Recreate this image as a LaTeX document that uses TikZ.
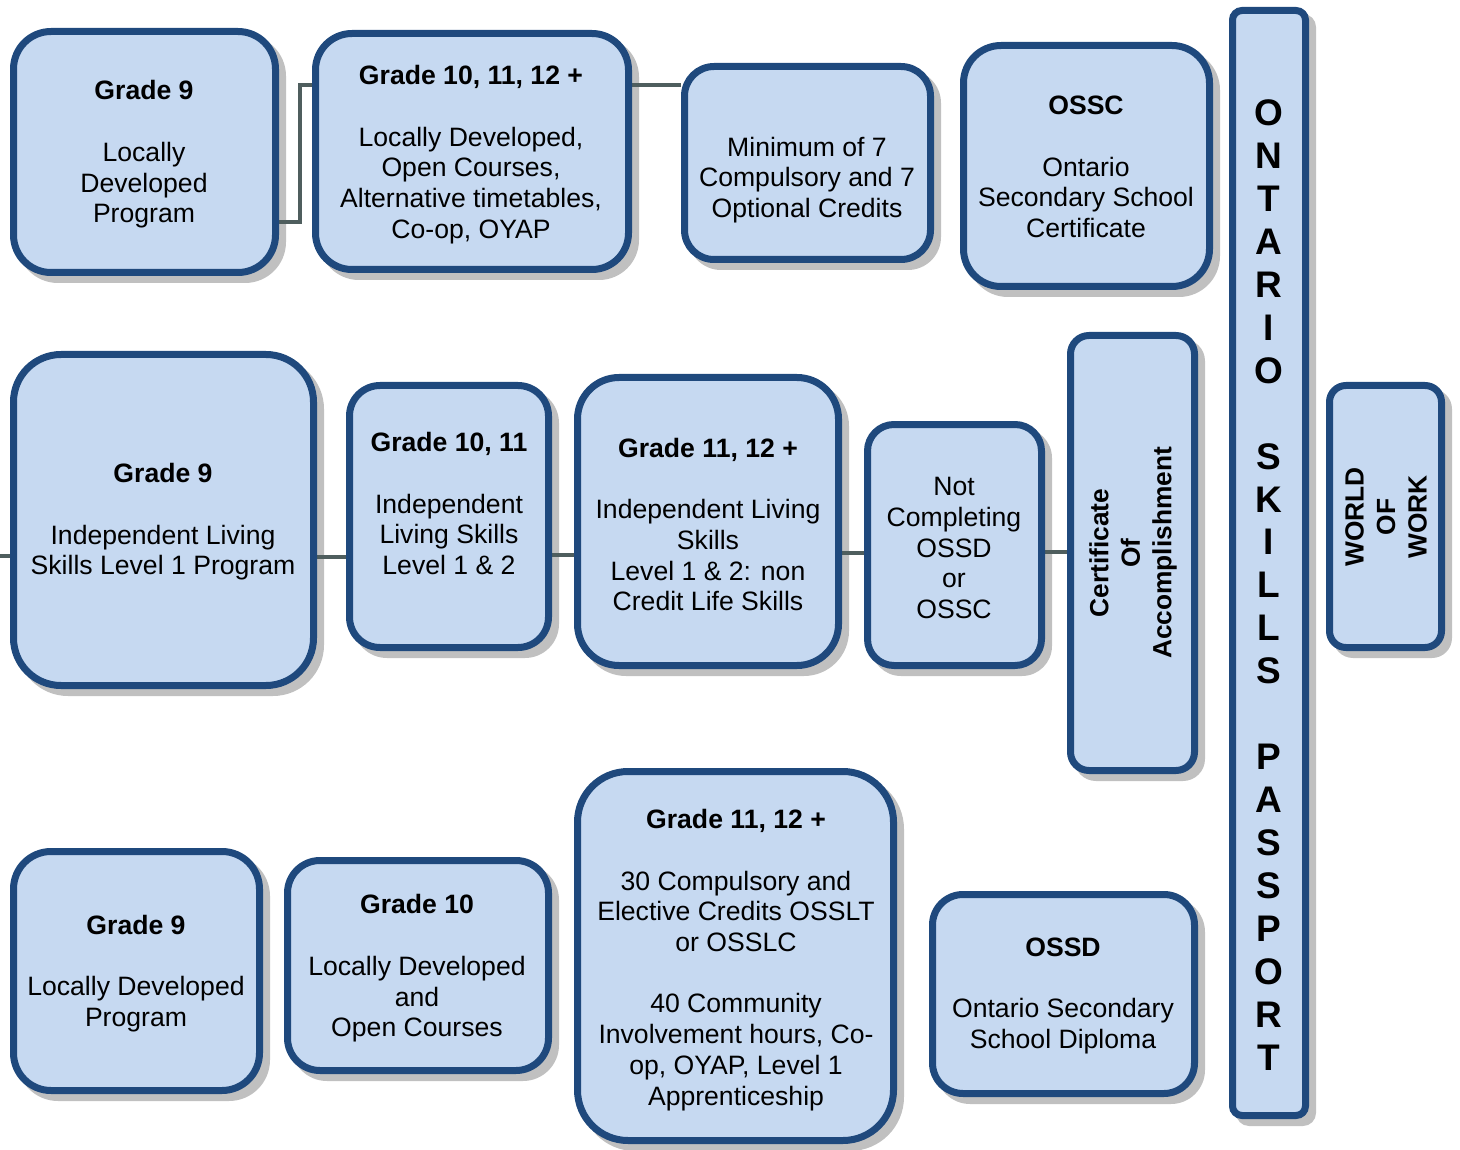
\documentclass[tikz,border=0pt]{standalone}
\usepackage{fontspec}
\setmainfont{Liberation Sans}
\definecolor{boxfill}{HTML}{C6D9F1}
\definecolor{boxline}{HTML}{1F497D}
\definecolor{shadowc}{HTML}{C0C0C0}
\definecolor{connc}{HTML}{4F5E5E}
\pgfdeclarelayer{shadowlayer}
\pgfdeclarelayer{connlayer}
\pgfsetlayers{shadowlayer,connlayer,main}
\tikzset{
  box/.style={draw=boxline, fill=boxfill, line width=7pt, inner sep=0pt, rectangle},
  txt/.style={align=center, inner sep=0pt, font=\fontsize{26.6}{30.7}\selectfont},
  btxt/.style={align=center, inner sep=0pt, font=\fontsize{26.3}{31.5}\selectfont\bfseries},
  osp/.style={align=center, inner sep=0pt, font=\fontsize{37}{42.95}\selectfont\bfseries},
  conn/.style={draw=connc, line width=4pt}
}
% name, x1, y1, x2, y2, outer radius
\newcommand\mybox[6]{%
  \begin{pgfonlayer}{shadowlayer}
    \fill[shadowc, rounded corners=#6] (#2+7,#3+7) rectangle (#4+7,#5+7);
  \end{pgfonlayer}
  \node[box, rounded corners=#6-3.5, minimum width={#4-#2-7}, minimum height={#5-#3-7}]
    (#1) at ({(#2+#4)/2},{(#3+#5)/2}) {};
}
\begin{document}
\begin{tikzpicture}[x=1pt,y=-1pt]
\useasboundingbox (0,0) rectangle (1460,1150);
% row 1
\mybox{A}{10}{28}{279}{276}{41}
\mybox{B}{312}{30}{632}{273}{40}
\mybox{C}{681}{63}{934}{263}{33}
\mybox{D}{960}{42}{1213}{290}{41}
\mybox{OSP}{1229}{7}{1309}{1119}{13}
% row 2
\mybox{E}{10}{351}{317}{689}{51}
\mybox{F}{346}{382}{552}{651}{34}
\mybox{G}{574}{374}{842}{669}{45}
\mybox{H}{864}{421}{1045}{669}{30}
\mybox{I}{1067}{332}{1198}{774}{22}
\mybox{J}{1326}{382}{1445}{651}{20}
% row 3
\mybox{K}{10}{848}{263}{1094}{41}
\mybox{L}{284}{857}{552}{1074}{36}
\mybox{M}{574}{768}{897}{1144}{54}
\mybox{N}{929}{891}{1198}{1097}{34}

% connectors
\begin{pgfonlayer}{connlayer}
\coordinate (left) at (0,556);
\draw[conn] (A.east |- 0,222) -- (300,222) -- (300,85) -- (B.west |- 0,85);
\draw[conn] (B.east |- 0,85) -- (C.west |- 0,85);
\draw[conn] (left) -- (E.west |- left);
\draw[conn] (E.east |- 0,557) -- (F.west |- 0,557);
\draw[conn] (F.east |- 0,555) -- (G.west |- 0,555);
\draw[conn] (G.east |- 0,553) -- (H.west |- 0,553);
\draw[conn] (H.east |- 0,552) -- (I.west |- 0,552);
\end{pgfonlayer}

% texts
\node[txt] (At) at (144,154.5) {\textbf{Grade 9}\\[30.7pt]Locally\\Developed\\Program};
\node[txt] (Bt) at (471,154.5) {\textbf{Grade 10, 11, 12 +}\\[30.7pt]Locally Developed,\\Open Courses,\\Alternative timetables,\\Co-op, OYAP};
\node[txt] (Ct) at (807,180) {Minimum of 7\\Compulsory and 7\\Optional Credits};
\node[txt] (Dt) at (1086,167) {\textbf{OSSC}\\[30.7pt]Ontario\\Secondary School\\Certificate};
\node[osp] (OSPt) at (1269,585) {O\\N\\T\\A\\R\\I\\O\\[42.95pt]S\\K\\I\\L\\L\\S\\[42.95pt]P\\A\\S\\S\\P\\O\\R\\T};
\node[txt] (Et) at (163,522) {\textbf{Grade 9}\\[30.7pt]Independent Living\\Skills Level 1 Program};
\node[txt] (Ft) at (449,503.5) {\textbf{Grade 10, 11}\\[30.7pt]Independent\\Living Skills\\Level 1 \& 2};
\node[txt] (Gt) at (708,524.5) {\textbf{Grade 11, 12 +}\\[30.7pt]Independent Living\\Skills\\Level 1 \& 2: non\\Credit Life Skills};
\node[txt] (Ht) at (954,548) {Not\\Completing\\OSSD\\or\\OSSC};
\node[btxt, rotate=90] (It) at (1133,553) {Certificate\\Of\\Accomplishment};
\node[btxt, rotate=90] (Jt) at (1386,517) {WORLD\\OF\\WORK};
\node[txt] (Kt) at (136,973.5) {\textbf{Grade 9}\\[30.7pt]Locally Developed\\Program};
\node[txt] (Lt) at (417,968.5) {\textbf{Grade 10}\\[30.7pt]Locally Developed\\and\\Open Courses};
\node[txt] (Mt) at (736,960) {\textbf{Grade 11, 12 +}\\[30.7pt]30 Compulsory and\\Elective Credits OSSLT\\or OSSLC\\[30.7pt]40 Community\\Involvement hours, Co-\\op, OYAP, Level 1\\Apprenticeship};
\node[txt] (Nt) at (1063,996) {\textbf{OSSD}\\[30.7pt]Ontario Secondary\\School Diploma};
\end{tikzpicture}
\end{document}
